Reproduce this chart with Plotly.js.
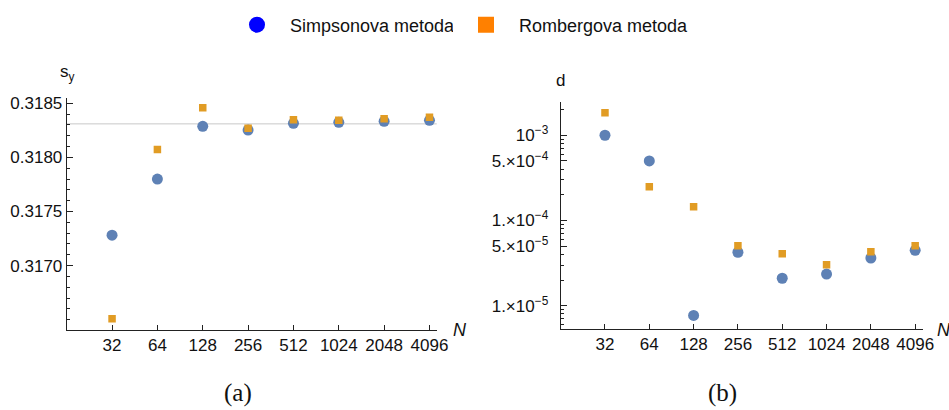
<!DOCTYPE html>
<html>
<head>
<meta charset="utf-8">
<script src="https://cdn.plot.ly/plotly-3.0.1.min.js"></script>
<style>html,body{margin:0;padding:0;background:#fff}#chart{width:949px;height:410px}</style>
</head>
<body>
<div id="chart"></div>
<script>
// Data
const N = [32, 64, 128, 256, 512, 1024, 2048, 4096];
const nTickLabels = ["32", "64", "128", "256", "512", "1024", "2048", "4096"];

const simpsonSy = [0.317281, 0.317800, 0.318287, 0.318253, 0.318315, 0.318324, 0.318333, 0.318343];
const rombergSy = [0.316509, 0.318074, 0.318459, 0.318269, 0.318348, 0.318343, 0.318357, 0.318370];
const exactSy = 0.3183099;

const simpsonD = [1.0e-3, 5.0e-4, 7.7e-6, 4.24e-5, 2.1e-5, 2.35e-5, 3.63e-5, 4.47e-5];
const rombergD = [1.84e-3, 2.49e-4, 1.45e-4, 5.06e-5, 4.08e-5, 3.03e-5, 4.3e-5, 5.06e-5];

const syTickVals = [0.3170, 0.3175, 0.3180, 0.3185];
const syTickText = ["0.3170", "0.3175", "0.3180", "0.3185"];
const syMinorTicks = [0.3165, 0.3166, 0.3167, 0.3168, 0.3169, 0.3171, 0.3172, 0.3173, 0.3174,
                      0.3176, 0.3177, 0.3178, 0.3179, 0.3181, 0.3182, 0.3183, 0.3184];
const dTickVals = [1e-5, 5e-5, 1e-4, 5e-4, 1e-3];
const dTickText = ["1.\u00d710<sup>\u22125</sup>", "5.\u00d710<sup>\u22125</sup>", "1.\u00d710<sup>\u22124</sup>", "5.\u00d710<sup>\u22124</sup>", "10<sup>\u22123</sup>"];
const dMinorTicks = [6e-6, 7e-6, 8e-6, 9e-6, 2e-5, 3e-5, 4e-5, 6e-5, 7e-5, 8e-5, 9e-5,
                     2e-4, 3e-4, 4e-4, 6e-4, 7e-4, 8e-4, 9e-4, 2e-3];

const legendNames = ["Simpsonova metoda", "Rombergova metoda"];

// Styles
const blue = "#5E81B5", orange = "#E19C24";
const axisColor = "#222";
const font = {family: "Liberation Sans, Arial, sans-serif", size: 17, color: "#111"};
const legendFont = {family: font.family, size: 18, color: "#111"};

const traces = [
  {x: N, y: simpsonSy, xaxis: "x", yaxis: "y", mode: "markers", showlegend: false,
   marker: {symbol: "circle", size: 11, color: blue}},
  {x: N, y: rombergSy, xaxis: "x", yaxis: "y", mode: "markers", showlegend: false,
   marker: {symbol: "square", size: 7.5, color: orange}},
  {x: N, y: simpsonD, xaxis: "x2", yaxis: "y2", mode: "markers", showlegend: false,
   marker: {symbol: "circle", size: 11, color: blue}},
  {x: N, y: rombergD, xaxis: "x2", yaxis: "y2", mode: "markers", showlegend: false,
   marker: {symbol: "square", size: 7.5, color: orange}},
  // legend-only entries
  {x: [null], y: [null], xaxis: "x", yaxis: "y", mode: "markers", name: legendNames[0],
   legend: "legend", marker: {symbol: "circle", size: 18, color: "#0000FF"}},
  {x: [null], y: [null], xaxis: "x", yaxis: "y", mode: "markers", name: legendNames[1],
   legend: "legend2", marker: {symbol: "square", size: 18, color: "#FF8000"}}
];

const xAxisCommon = {
  type: "log", tickvals: N, ticktext: nTickLabels, ticks: "inside", ticklen: 5,
  tickcolor: axisColor, showline: true, linecolor: axisColor, linewidth: 1,
  showgrid: false, zeroline: false, tickfont: font, fixedrange: true
};

const layout = {
  width: 949, height: 410,
  margin: {l: 0, r: 0, t: 0, b: 0},
  paper_bgcolor: "#fff", plot_bgcolor: "rgba(0,0,0,0)",
  font: font,
  showlegend: true,
  legend: {orientation: "h", x: 224 / 949, xanchor: "left", y: 1 - 25 / 410, yanchor: "middle",
           font: legendFont, itemsizing: "trace", itemwidth: 56},
  legend2: {orientation: "h", x: 453 / 949, xanchor: "left", y: 1 - 25 / 410, yanchor: "middle",
           font: legendFont, itemsizing: "trace", itemwidth: 56},
  xaxis: Object.assign({}, xAxisCommon, {domain: [0.0703, 0.4602], anchor: "y",
           range: [Math.log10(16), Math.log10(4096) + 0.16 * Math.log10(2)]}),
  yaxis: {domain: [0.1951, 0.7602], anchor: "x", range: [0.316405, 0.318546],
          tickvals: syTickVals, ticktext: syTickText, ticks: "inside", ticklen: 6,
          tickcolor: axisColor, showline: true, linecolor: axisColor, linewidth: 1,
          showgrid: false, zeroline: false, tickfont: font,
          minor: {tickmode: "array", tickvals: syMinorTicks, ticks: "inside", ticklen: 3,
                  tickcolor: axisColor, showgrid: false}},
  xaxis2: Object.assign({}, xAxisCommon, {domain: [0.5908, 0.9723], anchor: "y2",
           range: [Math.log10(16), Math.log10(4096) + 0.17 * Math.log10(2)]}),
  yaxis2: {domain: [0.1976, 0.7520], anchor: "x2", type: "log", range: [-5.273, -2.606],
           tickvals: dTickVals, ticktext: dTickText, ticks: "inside", ticklen: 6,
           ticklabelstandoff: 8,
           tickcolor: axisColor, showline: true, linecolor: axisColor, linewidth: 1,
           showgrid: false, zeroline: false, tickfont: font,
           minor: {tickmode: "array", tickvals: dMinorTicks, ticks: "inside", ticklen: 3,
                   tickcolor: axisColor, showgrid: false}},
  shapes: [
    {type: "line", xref: "x domain", yref: "y", x0: 0, x1: 1, y0: exactSy, y1: exactSy,
     line: {color: "#c8c8c8", width: 1}, layer: "below"}
  ],
  annotations: [
    {text: "s<sub>y</sub>", xref: "paper", yref: "paper", x: 67 / 949, y: 1 - 73 / 410,
     xanchor: "center", yanchor: "middle", showarrow: false, font: {family: font.family, size: 17, color: "#111"}},
    {text: "d", xref: "paper", yref: "paper", x: 560 / 949, y: 1 - 81 / 410,
     xanchor: "center", yanchor: "middle", showarrow: false, font: {family: font.family, size: 17, color: "#111"}},
    {text: "<i>N</i>", xref: "paper", yref: "paper", x: 451 / 949, y: 1 - 330 / 410,
     xanchor: "left", yanchor: "middle", showarrow: false, font: {family: font.family, size: 18, color: "#111"}},
    {text: "<i>N</i>", xref: "paper", yref: "paper", x: 935 / 949, y: 1 - 330 / 410,
     xanchor: "left", yanchor: "middle", showarrow: false, font: {family: font.family, size: 18, color: "#111"}},
    {text: "(a)", xref: "paper", yref: "paper", x: 238 / 949, y: 1 - 393 / 410,
     xanchor: "center", yanchor: "middle", showarrow: false, font: {family: "Liberation Serif, serif", size: 25, color: "#111"}},
    {text: "(b)", xref: "paper", yref: "paper", x: 722 / 949, y: 1 - 393 / 410,
     xanchor: "center", yanchor: "middle", showarrow: false, font: {family: "Liberation Serif, serif", size: 25, color: "#111"}}
  ]
};

Plotly.newPlot("chart", traces, layout, {staticPlot: true, displayModeBar: false});
</script>
</body>
</html>
